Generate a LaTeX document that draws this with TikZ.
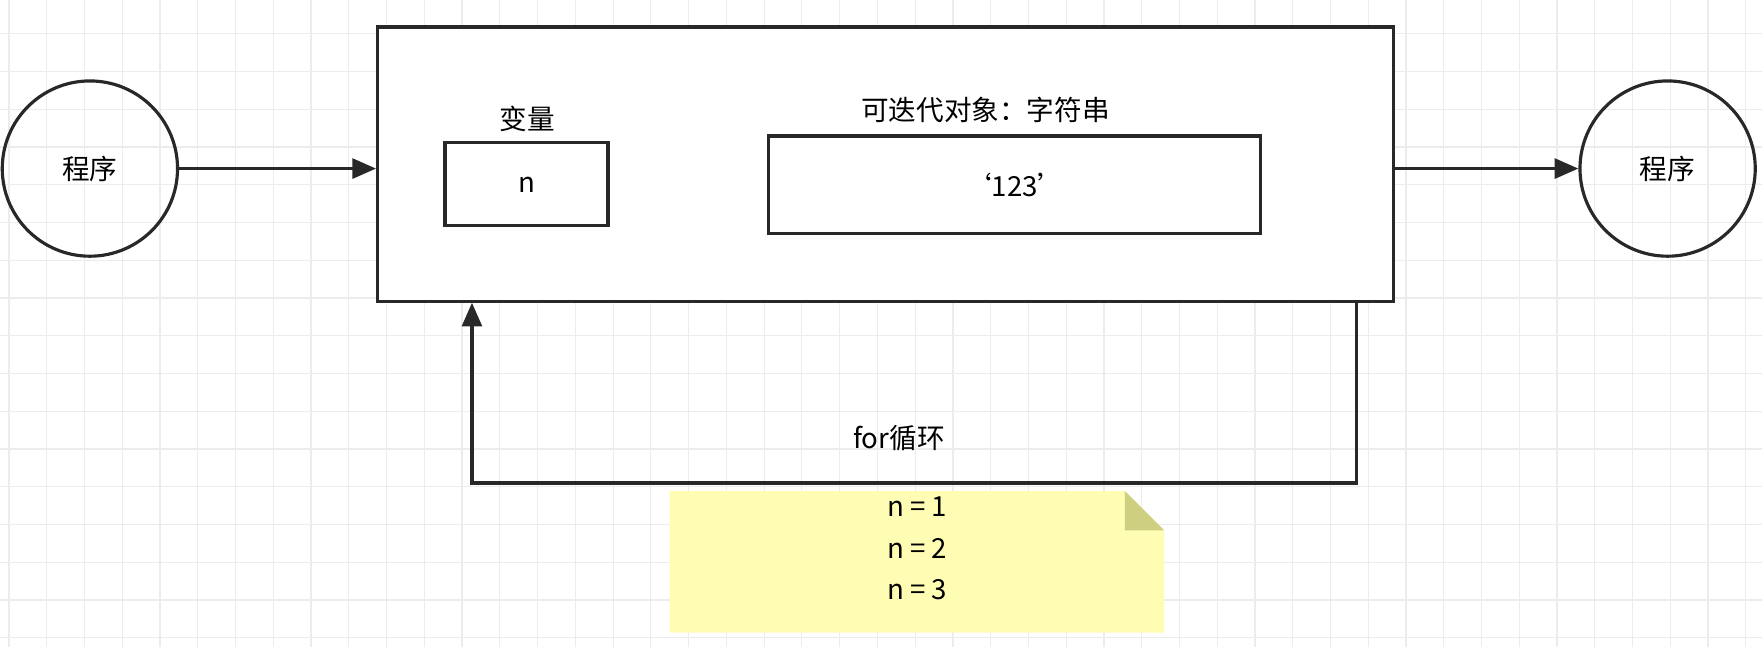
\documentclass[tikz,border=0pt]{standalone}
\usepackage{fontspec}
\setmainfont{Noto Sans CJK SC}
\usetikzlibrary{positioning,arrows.meta}
\definecolor{gridgray}{RGB}{236,236,236}
\definecolor{noteyellow}{RGB}{255,252,180}
\definecolor{notefold}{RGB}{207,207,130}
\definecolor{linegray}{RGB}{40,40,40}
\tikzset{
  prog/.style={circle,draw=linegray,line width=1.6pt,minimum size=3.12cm,inner sep=0pt},
  box/.style={rectangle,draw=linegray,line width=1.6pt,inner sep=0pt},
  flow/.style={-{Triangle[length=12pt,width=10pt]},draw=linegray,line width=1.8pt},
}
\begin{document}
\begin{tikzpicture}[x=0.02cm,y=-0.02cm,font=\fontsize{14}{17}\selectfont]
    \useasboundingbox (0,0) rectangle (1568,576);
    \fill[white] (0,0) rectangle (1568,576);
    % background grid
    \foreach \gx in {8,41.6,...,1568} \draw[gridgray,line width=0.6pt] (\gx,0) -- (\gx,576);
    \foreach \gy in {30,63.6,...,576} \draw[gridgray,line width=0.6pt] (0,\gy) -- (1568,\gy);

    \node[prog] (progIn) at (80,150) {程序};
    \node[prog] (progOut) at (1484,150) {程序};

    \node[box,fill=white,minimum width=18.08cm,minimum height=4.88cm] (loopBox) at (788,146) {};
    \node[box,minimum width=2.9cm,minimum height=1.48cm] (varBox) at (468.5,164) {n};
    \node (varLabel) at (469,106) {变量};
    \node[box,minimum width=8.76cm,minimum height=1.74cm] (iterBox) at (903,164.5) {‘123’};
    \node (iterLabel) at (877,98) {可迭代对象：字符串};

    \draw[flow] (progIn) -- (loopBox.west |- progIn);
    \draw[flow] (loopBox.east |- progOut) -- (progOut);

    % the loop back
    \coordinate (loopA) at (1207,430);
    \coordinate (loopB) at (420,430);
    \draw[flow] (loopBox.south -| loopA) -- (loopA) -- (loopB) -- (loopBox.south -| loopB);
    \node (forLabel) at (800,390) {for循环};

    % note
    \fill[noteyellow] (596,437) -- (1001,437) -- (1036,472) -- (1036,563) -- (596,563) -- cycle;
    \fill[notefold] (1001,437) -- (1036,472) -- (1001,472) -- cycle;
    \node[align=center,inner sep=0pt] (noteText) at (816,488) {n = 1\\[0.14cm]n = 2\\[0.14cm]n = 3};
\end{tikzpicture}
\end{document}
